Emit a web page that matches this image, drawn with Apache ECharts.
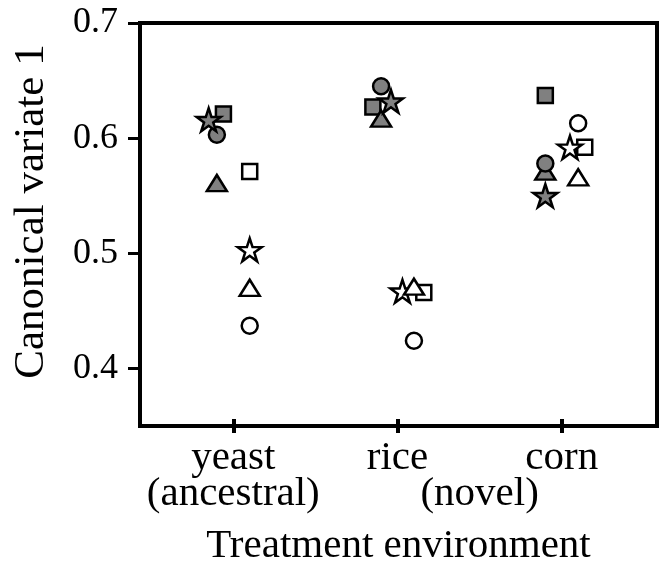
<!DOCTYPE html>
<html>
<head>
<meta charset="utf-8">
<script src="https://cdn.jsdelivr.net/npm/echarts@6/dist/echarts.min.js"></script>
<style>html,body{margin:0;padding:0;background:#fff;}#c{width:660px;height:565px;}</style>
</head>
<body>
<div id="c"></div>
<script>
// Category labels (x positions 0,1,2) and the shared "(novel)" label at 1.5
const categories = ['yeast', 'rice', 'corn'];
const categoryNotes = ['(ancestral)', '', ''];
const novelLabel = '(novel)';
const yTicks = [0.4, 0.5, 0.6, 0.7];

// Each point: [x position (category index + jitter), canonical variate 1]
// Filled (gray) markers
const filledCircle   = [[-0.10, 0.603], [0.90, 0.645], [1.90, 0.578]];
const filledSquare   = [[-0.06, 0.621], [0.85, 0.627], [1.90, 0.637]];
const filledTriangle = [[-0.10, 0.561], [0.90, 0.617], [1.90, 0.571]];
const filledStar     = [[-0.15, 0.616], [0.96, 0.632], [1.90, 0.550]];
// Open (white) markers
const openCircle     = [[0.10, 0.437], [1.10, 0.424], [2.10, 0.613]];
const openSquare     = [[0.10, 0.571], [1.16, 0.466], [2.14, 0.592]];
const openTriangle   = [[0.10, 0.470], [1.10, 0.471], [2.10, 0.566]];
const openStar       = [[0.10, 0.503], [1.03, 0.467], [2.05, 0.592]];

const STAR = 'path://M0,-1 L0.2245,-0.309 L0.951,-0.309 L0.3633,0.118 L0.5878,0.809 L0,0.382 L-0.5878,0.809 L-0.3633,0.118 L-0.951,-0.309 L-0.2245,-0.309 Z';
const GRAY = '#808080';
const FONT = '"Liberation Serif", "DejaVu Serif", serif';

function mk(name, data, symbol, size, fill, z) {
  return {
    name, type: 'scatter', data, symbol, symbolSize: size,
    z: z,
    itemStyle: { color: fill, borderColor: '#000', borderWidth: 2.5, opacity: 1 },
    emphasis: { disabled: true }
  };
}

const chart = echarts.init(document.getElementById('c'), null, { renderer: 'canvas' });
chart.setOption({
  animation: false,
  backgroundColor: '#fff',
  grid: { left: 140, right: 3, top: 23, bottom: 139, containLabel: false, outerBoundsMode: 'none',
    show: true, borderColor: '#000', borderWidth: 4, backgroundColor: 'transparent' },
  xAxis: [{
    type: 'value', min: -0.568, max: 2.58,
    name: 'Treatment environment', nameLocation: 'middle', nameGap: 100,
    nameTextStyle: { fontFamily: FONT, fontSize: 41, color: '#000' },
    axisLine: { show: true, onZero: false, lineStyle: { color: '#000', width: 4 } },
    splitLine: { show: false },
    axisTick: { show: true, length: 7, lineStyle: { color: '#000', width: 4 }, customValues: [0, 1, 2] },
    axisLabel: {
      show: true, customValues: [0, 1, 2], margin: 14, hideOverlap: false,
      fontFamily: FONT, fontSize: 41, lineHeight: 36, color: '#000',
      formatter: function (v) {
        const i = Math.round(v);
        return categoryNotes[i] ? categories[i] + '\n' + categoryNotes[i] : categories[i];
      }
    }
  }, {
    type: 'value', min: -0.568, max: 2.58, position: 'bottom',
    axisLine: { show: false, onZero: false }, splitLine: { show: false },
    axisTick: { show: true, inside: true, length: 7, lineStyle: { color: '#000', width: 4 }, customValues: [0, 1, 2] },
    axisLabel: {
      show: true, customValues: [1.5], margin: 14,
      fontFamily: FONT, fontSize: 41, lineHeight: 36, color: '#000',
      formatter: () => '\n' + novelLabel
    }
  }],
  yAxis: {
    type: 'value', min: 0.35, max: 0.7,
    name: 'Canonical variate 1', nameLocation: 'middle', nameGap: 87,
    nameTextStyle: { fontFamily: FONT, fontSize: 43, color: '#000', padding: [0, 0, 0, 26] },
    axisLine: { show: true, onZero: false, lineStyle: { color: '#000', width: 4 } },
    splitLine: { show: false },
    axisTick: { show: true, length: 12, lineStyle: { color: '#000', width: 3 }, customValues: yTicks },
    axisLabel: { show: true, customValues: yTicks, margin: 22, fontFamily: FONT, fontSize: 36, color: '#000',
      formatter: v => v.toFixed(1) }
  },
  series: [
    mk('filledSquare', filledSquare, 'rect', 15, GRAY, 2),
    mk('filledTriangle', filledTriangle, 'triangle', [20, 16], GRAY, 3),
    mk('filledCircle', filledCircle, 'circle', 16, GRAY, 4),
    mk('filledStar', filledStar, STAR, [24, 23], GRAY, 5),
    mk('openSquare', openSquare, 'rect', 15, '#fff', 2),
    mk('openCircle', openCircle, 'circle', 16, '#fff', 3),
    mk('openStar', openStar, STAR, [24, 23], '#fff', 4),
    mk('openTriangle', openTriangle, 'triangle', [20, 16], '#fff', 5)
  ]
});
</script>
</body>
</html>
